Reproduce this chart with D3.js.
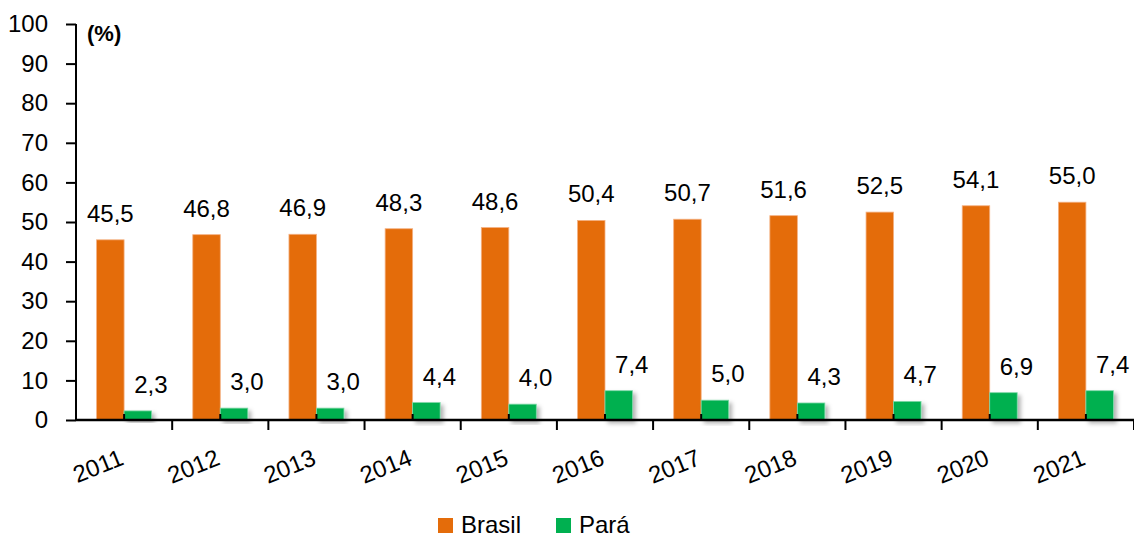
<!DOCTYPE html>
<html>
<head>
<meta charset="utf-8">
<script src="https://cdn.jsdelivr.net/npm/d3@7"></script>
<style>
  body { margin: 0; background: #fff; }
  text { font-family: "Liberation Sans", Arial, sans-serif; fill: #000; }
</style>
</head>
<body>
<script>
// data
var years = ["2011", "2012", "2013", "2014", "2015", "2016", "2017", "2018", "2019", "2020", "2021"];
var brasil = [45.5, 46.8, 46.9, 48.3, 48.6, 50.4, 50.7, 51.6, 52.5, 54.1, 55.0];
var para = [2.3, 3.0, 3.0, 4.4, 4.0, 7.4, 5.0, 4.3, 4.7, 6.9, 7.4];
var seriesNames = ["Brasil", "Pará"];
var seriesColors = ["#E46C0A", "#00B050"];
var yTicks = [0, 10, 20, 30, 40, 50, 60, 70, 80, 90, 100];

var width = 1134, height = 538;
var margin = {left: 76, right: 0, top: 24, bottom: 118};

var svg = d3.select("body").append("svg")
    .attr("width", width)
    .attr("height", height);

// shadow for the green bars
var defs = svg.append("defs");
defs.append("filter")
    .attr("id", "shadow")
    .attr("x", "-20%").attr("y", "-20%")
    .attr("width", "150%").attr("height", "150%")
  .append("feDropShadow")
    .attr("dx", 3).attr("dy", 3)
    .attr("stdDeviation", 2)
    .attr("flood-color", "#000")
    .attr("flood-opacity", 0.3);

var y = d3.scaleLinear()
    .domain([0, 100])
    .range([height - margin.bottom, margin.top]);

var x = d3.scaleBand()
    .domain(years)
    .range([margin.left, width - margin.right])
    .padding(0);

var barW = 27.5;
var xs = d3.scaleBand()
    .domain(seriesNames)
    .range([x.bandwidth() / 2 - barW, x.bandwidth() / 2 + barW]);

var rows = years.map(function(yr, i) {
  return {year: yr, values: [
    {name: "Brasil", value: brasil[i]},
    {name: "Pará", value: para[i]}
  ]};
});

var fmt = function(v) { return d3.format(".1f")(v).replace(".", ","); };

// bars
var groups = svg.selectAll("g.year")
    .data(rows)
    .enter().append("g")
    .attr("class", "year")
    .attr("transform", function(d) { return "translate(" + x(d.year) + ",0)"; });

groups.selectAll("rect")
    .data(function(d) { return d.values; })
    .enter().append("rect")
    .attr("x", function(d) { return xs(d.name); })
    .attr("width", xs.bandwidth())
    .attr("y", function(d) { return y(d.value); })
    .attr("height", function(d) { return y(0) - y(d.value); })
    .attr("fill", function(d, i) { return seriesColors[i]; })
    .attr("stroke", function(d, i) { return i == 0 ? "#F4B183" : "#7FD8A8"; })
    .attr("stroke-width", 0.8)
    .attr("filter", function(d, i) { return i == 1 ? "url(#shadow)" : null; });

// value labels
groups.selectAll("text.val")
    .data(function(d) { return d.values; })
    .enter().append("text")
    .attr("class", "val")
    .attr("x", function(d, i) { return xs(d.name) + xs.bandwidth() / 2 + (i == 1 ? 13 : 0); })
    .attr("y", function(d) { return y(d.value) - 18; })
    .attr("text-anchor", "middle")
    .style("font-size", "24px")
    .text(function(d) { return fmt(d.value); });

// y axis
var yAxis = svg.append("g")
    .attr("transform", "translate(" + margin.left + ",0)")
    .call(d3.axisLeft(y).tickValues(yTicks).tickSize(10).tickPadding(18));
yAxis.select(".domain").attr("stroke-width", 2).attr("d", "M0," + y(100) + "V" + y(0));
yAxis.selectAll(".tick line").attr("stroke-width", 2);
yAxis.selectAll(".tick text")
    .attr("font-family", "Liberation Sans, Arial, sans-serif")
    .attr("font-size", 24)
    .attr("fill", "#000");

// x axis: ticks between categories, small marks at category centres
var xAxis = svg.append("g")
    .attr("transform", "translate(0," + y(0) + ")");
xAxis.append("line")
    .attr("x1", margin.left).attr("x2", width)
    .attr("stroke", "#000").attr("stroke-width", 2.5);
xAxis.selectAll("line.bound")
    .data(years)
    .enter().append("line")
    .attr("class", "bound")
    .attr("x1", function(d) { return x(d) + x.bandwidth(); })
    .attr("x2", function(d) { return x(d) + x.bandwidth(); })
    .attr("y1", 0).attr("y2", 10)
    .attr("stroke", "#000").attr("stroke-width", 2);
xAxis.selectAll("line.mid")
    .data(years)
    .enter().append("line")
    .attr("class", "mid")
    .attr("x1", function(d) { return x(d) + x.bandwidth() / 2; })
    .attr("x2", function(d) { return x(d) + x.bandwidth() / 2; })
    .attr("y1", -6).attr("y2", 0)
    .attr("stroke", "#000").attr("stroke-width", 2);
xAxis.selectAll("text")
    .data(years)
    .enter().append("text")
    .attr("transform", function(d) { return "translate(" + (x(d) + x.bandwidth() / 2 + 1) + ",44) rotate(-22)"; })
    .attr("text-anchor", "end")
    .style("font-size", "24px")
    .text(function(d) { return d; });

// unit label
svg.append("text")
    .attr("x", 87)
    .attr("y", 41)
    .style("font-size", "22px")
    .style("font-weight", "bold")
    .text("(%)");

// legend
var legendX = [438, 556];
var legend = svg.selectAll("g.legend")
    .data(seriesNames)
    .enter().append("g")
    .attr("class", "legend")
    .attr("transform", function(d, i) { return "translate(" + legendX[i] + ",518)"; });
legend.append("rect")
    .attr("width", 15).attr("height", 15)
    .attr("fill", function(d, i) { return seriesColors[i]; });
legend.append("text")
    .attr("x", 23)
    .attr("y", 15)
    .style("font-size", "24px")
    .text(function(d) { return d; });
</script>
</body>
</html>
